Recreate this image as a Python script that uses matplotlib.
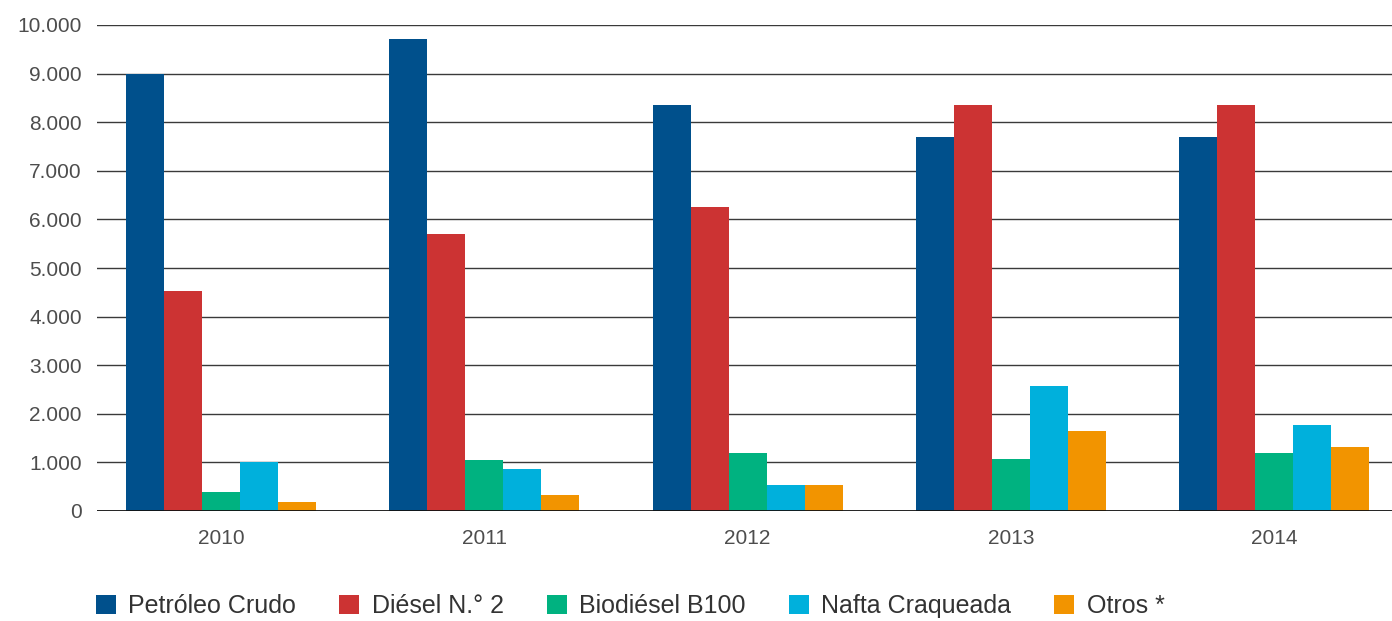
import matplotlib
matplotlib.use("Agg")
import matplotlib.pyplot as plt
import numpy as np

plt.rcParams['font.family'] = ['Liberation Sans', 'DejaVu Sans']

years = ['2010', '2011', '2012', '2013', '2014']
series_names = ['Petróleo Crudo', 'Diésel N.° 2', 'Biodiésel B100', 'Nafta Craqueada', 'Otros *']
crudo = [9000, 9720, 8360, 7700, 7700]
diesel = [4530, 5690, 6260, 8360, 8360]
biodiesel = [400, 1040, 1200, 1075, 1200]
nafta = [1010, 870, 540, 2580, 1775]
otros = [190, 320, 540, 1650, 1320]
colors = ['#00508c', '#cc3333', '#00b280', '#00b0dc', '#f29400']
yticks = [0, 1000, 2000, 3000, 4000, 5000, 6000, 7000, 8000, 9000, 10000]

fig = plt.figure(figsize=(13.92, 6.21), dpi=100)
ax = fig.add_axes([97/1392, 1 - 511/621, 1 - 97/1392, (511 - 25)/621])

x = np.arange(len(years))
w = 0.1443
all_series = [crudo, diesel, biodiesel, nafta, otros]
for i, (vals, name, c) in enumerate(zip(all_series, series_names, colors)):
    ax.bar(x + (i - 2) * w, vals, width=w, color=c, label=name, zorder=3)

ax.set_xlim(-0.471, 4.448)
ax.set_ylim(0, 10000)
ax.set_yticks(yticks)
ax.set_yticklabels(['{:,.0f}'.format(v).replace(',', '.') for v in yticks])
ax.set_xticks(x)
ax.set_xticklabels(years)
ax.tick_params(axis='both', length=0, labelsize=15, labelcolor='#4d4d4d')
ax.tick_params(axis='y', pad=11)
ax.tick_params(axis='x', pad=13)

for v in yticks[1:]:
    ax.axhline(v, color='#3a3a3a', lw=1.0, zorder=1)
ax.axhline(0, color='#111111', lw=1.3, zorder=4)
for s in ax.spines.values():
    s.set_visible(False)

fig.legend(loc='center left', bbox_to_anchor=(96/1392, 15/621), ncol=5, frameon=False,
           fontsize=18, handlelength=0.8, handleheight=0.8, handletextpad=0.5,
           columnspacing=1.72, borderpad=0, borderaxespad=0, labelcolor='#333333')

fig.savefig('out.png', dpi=100)
